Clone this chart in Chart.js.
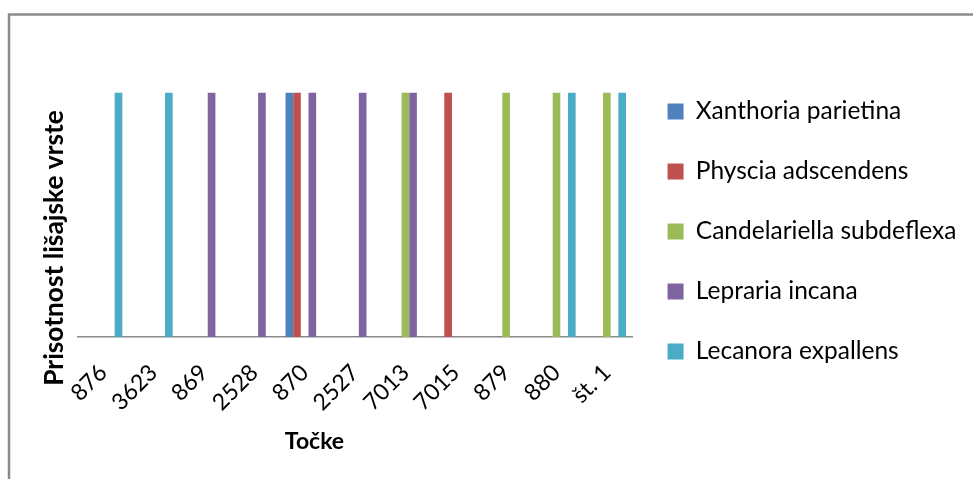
<!DOCTYPE html>
<html>
<head>
<meta charset="utf-8">
<script src="https://cdn.jsdelivr.net/npm/chart.js@4/dist/chart.umd.min.js"></script>
<style>
  html, body { margin: 0; padding: 0; background: #fff; }
  #wrap { position: relative; width: 973px; height: 479px; overflow: hidden; }
  canvas { display: block; }
</style>
</head>
<body>
<div id="wrap"><canvas id="c" width="973" height="479"></canvas></div>
<script>
// Sampling points (Točke)
const points = ['876', '3623', '869', '2528', '870', '2527', '7013', '7015', '879', '880', 'št. 1'];

// Presence (1) / absence (0) of each lichen species at each point
const xanthoriaParietina      = [0, 0, 0, 0, 1, 0, 0, 0, 0, 0, 0];
const physciaAdscendens       = [0, 0, 0, 0, 1, 0, 0, 1, 0, 0, 0];
const candelariellaSubdeflexa = [0, 0, 0, 0, 0, 0, 1, 0, 1, 1, 1];
const leprariaIncana          = [0, 0, 1, 1, 1, 1, 1, 0, 0, 0, 0];
const lecanoraExpallens       = [1, 1, 0, 0, 0, 0, 0, 0, 0, 1, 1];

const speciesNames = ['Xanthoria parietina', 'Physcia adscendens', 'Candelariella subdeflexa', 'Lepraria incana', 'Lecanora expallens'];
const speciesValues = [xanthoriaParietina, physciaAdscendens, candelariellaSubdeflexa, leprariaIncana, lecanoraExpallens];
const speciesColors = ['#4F81BD', '#C0504D', '#9BBB59', '#8064A2', '#4BACC6'];

const xTitle = 'Točke';
const yTitle = 'Prisotnost lišajske vrste';

const FONT = 'Lato, "Liberation Sans", sans-serif';

// Outer chart frame (runs past the right and bottom edges)
const framePlugin = {
  id: 'frame',
  beforeDraw(chart) {
    const ctx = chart.ctx;
    ctx.save();
    ctx.fillStyle = '#fff';
    ctx.fillRect(0, 0, chart.width, chart.height);
    ctx.strokeStyle = '#8a8a8a';
    ctx.lineWidth = 2.5;
    ctx.strokeRect(9, 14.5, chart.width + 20, chart.height + 20);
    ctx.restore();
  }
};

// Axis titles, placed relative to the plot like the office-style layout
const axisTitlePlugin = {
  id: 'axisTitles',
  afterDraw(chart) {
    const ctx = chart.ctx;
    const area = chart.chartArea;
    ctx.save();
    ctx.fillStyle = '#000';
    ctx.textBaseline = 'alphabetic';
    ctx.textAlign = 'center';
    ctx.font = 'bold 23px ' + FONT;
    ctx.fillText(xTitle, area.left + 236.5, area.bottom + 112);
    ctx.translate(area.left - 15, area.bottom - 89);
    ctx.rotate(-Math.PI / 2);
    ctx.font = 'bold 26.3px ' + FONT;
    ctx.fillText(yTitle, 0, 0);
    ctx.restore();
  }
};

new Chart(document.getElementById('c'), {
  type: 'bar',
  data: {
    labels: points,
    datasets: speciesNames.map((name, i) => ({
      label: name,
      data: speciesValues[i],
      backgroundColor: speciesColors[i],
      borderWidth: 0,
      categoryPercentage: 0.76,
      barPercentage: 1.0
    }))
  },
  options: {
    responsive: false,
    animation: false,
    devicePixelRatio: 1,
    layout: { padding: { left: 0, top: 44, right: 6.5, bottom: 60 } },
    plugins: {
      tooltip: { enabled: false },
      legend: {
        position: 'right',
        align: 'center',
        maxWidth: 345,
        labels: {
          font: { family: FONT, size: 24.5 },
          color: '#000',
          boxWidth: 16,
          boxHeight: 16,
          padding: 35.5
        }
      }
    },
    scales: {
      x: {
        afterFit(scale) { scale.height = 82; },
        grid: { display: false, drawTicks: false },
        border: { display: true, color: '#8a8a8a', width: 1.5 },
        ticks: {
          color: '#000',
          font: { family: FONT, size: 23 },
          maxRotation: 45,
          minRotation: 45,
          padding: 22
        }
      },
      y: {
        min: 0,
        max: 1.2,
        afterFit(scale) { scale.width = 78; },
        grid: { display: false, drawTicks: false },
        border: { display: false },
        ticks: { display: false }
      }
    }
  },
  plugins: [framePlugin, axisTitlePlugin]
});
</script>
</body>
</html>
